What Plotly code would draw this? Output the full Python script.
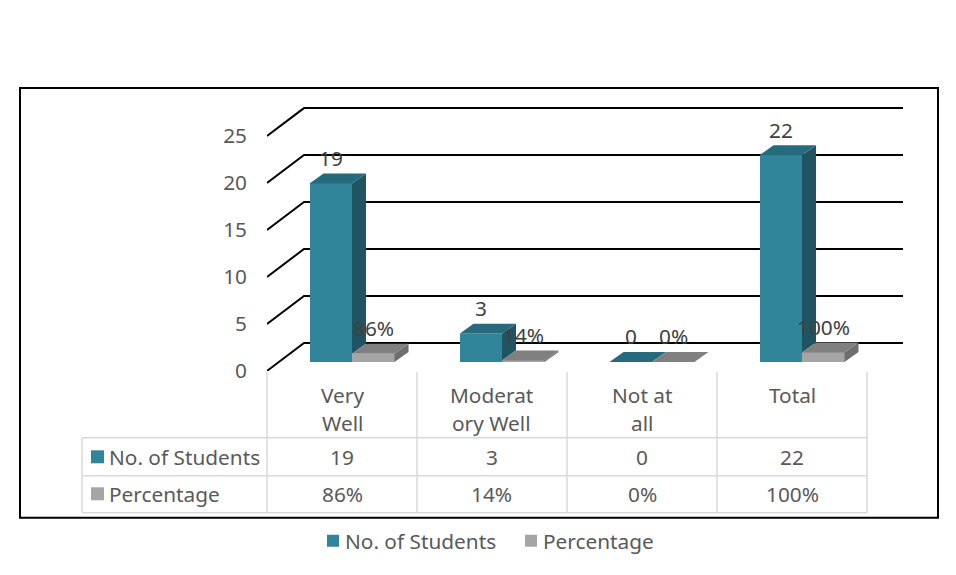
import plotly.graph_objects as go

# ---------------- data ----------------
categories = ["Very Well", "Moderatory Well", "Not at all", "Total"]
category_lines = [["Very", "Well"], ["Moderat", "ory Well"], ["Not at", "all"], ["Total"]]
students = [19, 3, 0, 22]
percentage = [0.86, 0.14, 0.0, 1.00]
series_names = ["No. of Students", "Percentage"]
y_ticks = [0, 5, 10, 15, 20, 25]

# ---------------- styling / geometry ----------------
OFF = 8                 # page body margin
K = 575 / 588           # vertical scale of the capture
W, H = 956 - 2 * OFF, 568
FONT = "Noto Sans"
FS = 20.8
TXT = "#595959"
LBL = "#404040"
GRIDC = "#d9d9d9"


def px(x):
    return (x - OFF) / W


def py(y):
    return 1 - (y / K - OFF) / H


X0_PX, X1_PX = 267, 903
Y0_PX, YT_PX = 371, 100
PPU_X, PPU_Y = 150.0, 9.4
xr = [-0.5, -0.5 + (X1_PX - X0_PX) / PPU_X]
yr = [0, (Y0_PX - YT_PX) / PPU_Y]
WALL_DX, WALL_DY = 37 / PPU_X, 28 / PPU_Y
BASE = 9 / PPU_Y
BAR_W = 42.5 / PPU_X
BAR_DX, BAR_DY = 14 / PPU_X, 10 / PPU_Y
series_left = [-0.2167, -0.2167 + BAR_W]
front = ["rgb(49,133,155)", "rgb(165,165,165)"]
topc = ["rgb(38,107,125)", "rgb(128,128,128)"]
sidec = ["rgb(32,84,98)", "rgb(110,110,110)"]
series_vals = [students, percentage]

fig = go.Figure()

# front faces
for s in range(2):
    fig.add_trace(go.Bar(
        x=[i + series_left[s] + BAR_W / 2 for i in range(len(categories))],
        y=series_vals[s], base=BASE, width=BAR_W,
        marker=dict(color=front[s], line=dict(width=0)),
        name=series_names[s], hoverinfo="skip", showlegend=False))

# top and side faces
for s in range(2):
    for i, v in enumerate(series_vals[s]):
        x0 = i + series_left[s]
        x1 = x0 + BAR_W
        top = BASE + v
        low = BASE + (series_vals[1][i] if s == 0 else 0)
        if top > low:
            fig.add_trace(go.Scatter(
                x=[x1, x1, x1 + BAR_DX, x1 + BAR_DX, x1],
                y=[low, top, top + BAR_DY, low + BAR_DY, low],
                mode="lines", fill="toself", fillcolor=sidec[s],
                line=dict(width=0, color=sidec[s]), showlegend=False, hoverinfo="skip"))
        fig.add_trace(go.Scatter(
            x=[x0, x1, x1 + BAR_DX, x0 + BAR_DX, x0],
            y=[top, top, top + BAR_DY, top + BAR_DY, top],
            mode="lines", fill="toself", fillcolor=topc[s],
            line=dict(width=0, color=topc[s]), showlegend=False, hoverinfo="skip"))

shapes = []
for v in y_ticks:
    shapes.append(dict(type="path", xref="x", yref="y", layer="below",
                       path=f"M{xr[0]},{v} L{xr[0] + WALL_DX},{v + WALL_DY} L{xr[1]},{v + WALL_DY}",
                       line=dict(color="black", width=2)))

# chart frame
shapes.append(dict(type="rect", xref="paper", yref="paper", x0=px(20), x1=px(938), y0=py(518), y1=py(88),
                   line=dict(color="black", width=2)))

# data table
col_edges = [267 + 150 * k for k in range(len(categories) + 1)]
for xe in col_edges:
    shapes.append(dict(type="line", xref="paper", yref="paper", x0=px(xe), x1=px(xe), y0=py(372), y1=py(513),
                       line=dict(color=GRIDC, width=1.5)))
shapes.append(dict(type="line", xref="paper", yref="paper", x0=px(82), x1=px(82), y0=py(438), y1=py(513),
                   line=dict(color=GRIDC, width=1.5)))
for ye in [438, 476, 513]:
    shapes.append(dict(type="line", xref="paper", yref="paper", x0=px(82), x1=px(col_edges[-1]),
                       y0=py(ye), y1=py(ye), line=dict(color=GRIDC, width=1.5)))

row_y = [457, 494]
for s in range(2):
    shapes.append(dict(type="rect", xref="paper", yref="paper", x0=px(91), x1=px(104),
                       y0=py(row_y[s] + 6.5), y1=py(row_y[s] - 6.5),
                       line=dict(width=0), fillcolor=front[s]))

# legend keys (below the chart)
legend_key_x = [327, 525]
LEG_Y = 541
for s in range(2):
    shapes.append(dict(type="rect", xref="paper", yref="paper", x0=px(legend_key_x[s]),
                       x1=px(legend_key_x[s] + 12), y0=py(LEG_Y + 6), y1=py(LEG_Y - 6),
                       line=dict(width=0), fillcolor=front[s]))

annotations = []
for s in range(2):
    for i, v in enumerate(series_vals[s]):
        txt = str(v) if s == 0 else f"{round(v * 100)}%"
        annotations.append(dict(x=i + series_left[s] + BAR_W / 2, y=BASE + v, xref="x", yref="y",
                                text=txt, showarrow=False, yshift=25 / K, xanchor="center", yanchor="middle",
                                font=dict(family=FONT, size=FS, color=LBL)))

col_centers = [342 + 150 * i for i in range(len(categories))]
for i, lines in enumerate(category_lines):
    for k, ln in enumerate(lines):
        annotations.append(dict(x=px(col_centers[i]), y=py(395 + 28 * k), xref="paper", yref="paper",
                                xanchor="center", yanchor="middle",
                                text=ln, showarrow=False, font=dict(family=FONT, size=FS, color=TXT)))
for s in range(2):
    annotations.append(dict(x=px(107), y=py(row_y[s]), xref="paper", yref="paper",
                            xanchor="left", yanchor="middle",
                            text=series_names[s], showarrow=False, font=dict(family=FONT, size=FS, color=TXT)))
    for i, v in enumerate(series_vals[s]):
        txt = str(v) if s == 0 else f"{round(v * 100)}%"
        annotations.append(dict(x=px(col_centers[i]), y=py(row_y[s]), xref="paper", yref="paper",
                                xanchor="center", yanchor="middle",
                                text=txt, showarrow=False, font=dict(family=FONT, size=FS, color=TXT)))
    annotations.append(dict(x=px(legend_key_x[s] + 16), y=py(LEG_Y), xref="paper", yref="paper",
                            xanchor="left", yanchor="middle",
                            text=series_names[s], showarrow=False, font=dict(family=FONT, size=FS, color=TXT)))

fig.update_layout(
    width=W, height=H, margin=dict(l=0, r=0, t=0, b=0),
    paper_bgcolor="white", plot_bgcolor="rgba(0,0,0,0)",
    barmode="overlay", bargap=0,
    font=dict(family=FONT, size=FS, color=TXT),
    xaxis=dict(domain=[px(X0_PX), px(X1_PX)], range=xr, visible=False),
    yaxis=dict(domain=[py(Y0_PX), py(YT_PX)], range=yr, tickvals=y_ticks, showgrid=False,
               zeroline=False, showline=False, ticks="", ticklabelstandoff=19,
               tickfont=dict(family=FONT, size=FS, color=TXT)),
    showlegend=False,
    shapes=shapes, annotations=annotations,
)

fig.write_html("out.html")
